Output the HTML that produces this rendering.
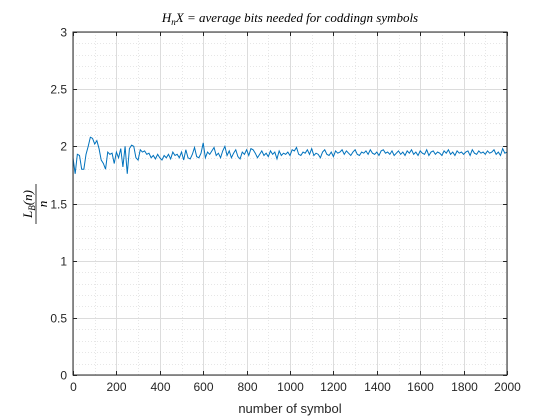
<!DOCTYPE html>
<html><head><meta charset="utf-8"><style>
body{margin:0;background:#fff;width:560px;height:420px;overflow:hidden}
svg{display:block}
</style></head><body>
<svg id="chart" width="560" height="420" xmlns="http://www.w3.org/2000/svg">
<rect width="560" height="420" fill="#fff"/>
<g id="grid"></g>
<g id="ticks"></g>
<path id="series" fill="none" stroke="#0072bd" stroke-width="1"/>
<rect x="73" y="32" width="434" height="343" fill="none" stroke="#262626" stroke-width="1"/>
<text x="290" y="22" text-anchor="middle" font-family="Liberation Serif, serif" font-style="italic" font-size="13" fill="#000">H<tspan font-size="9" dy="3">n</tspan><tspan dy="-3">X = average bits needed for coddingn symbols</tspan></text>
<text x="290" y="413" text-anchor="middle" font-family="Liberation Sans, sans-serif" font-size="13" fill="#262626">number of symbol</text>
<g transform="translate(36,204) rotate(-90)" font-family="Liberation Serif, serif" font-style="italic" font-size="13" fill="#000">
<text x="0" y="-4" text-anchor="middle">L<tspan font-size="9" dy="3">B</tspan><tspan dy="-3">(n)</tspan></text>
<line x1="-20" y1="0" x2="20" y2="0" stroke="#000" stroke-width="0.8"/>
<text x="0" y="11" text-anchor="middle">n</text>
</g>
</svg>
<script>
const yValues=[1.90,1.76,1.93,1.92,1.80,1.80,1.93,2.00,2.08,2.07,
2.02,2.05,1.98,1.88,1.85,1.80,1.95,1.93,1.94,1.85,
1.95,1.90,1.98,1.82,2.00,1.76,1.98,2.01,2.00,1.90,
1.88,1.97,1.95,1.96,1.93,1.94,1.90,1.92,1.89,1.93,
1.90,1.88,1.92,1.90,1.93,1.89,1.95,1.92,1.93,1.90,
1.95,1.88,1.97,1.90,1.89,1.93,1.99,1.91,1.90,1.94,
2.03,1.90,1.95,1.93,1.96,1.99,1.92,1.94,1.90,1.96,
2.00,1.92,1.96,1.90,1.94,1.97,1.91,1.89,1.95,1.93,
1.97,1.92,1.98,1.97,1.94,1.90,1.93,1.96,1.92,1.94,
1.91,1.96,1.93,1.95,1.89,1.96,1.92,1.94,1.93,1.95,
1.92,1.97,1.96,1.99,1.93,1.92,1.95,1.94,1.97,1.93,
1.98,1.92,1.94,1.93,1.90,1.95,1.97,1.93,1.92,1.95,
1.91,1.96,1.94,1.95,1.97,1.93,1.96,1.94,1.92,1.95,
1.97,1.93,1.92,1.95,1.94,1.96,1.93,1.97,1.94,1.93,
1.95,1.92,1.96,1.97,1.94,1.95,1.93,1.96,1.92,1.94,
1.96,1.93,1.95,1.92,1.96,1.94,1.97,1.93,1.95,1.92,
1.96,1.94,1.93,1.97,1.92,1.95,1.96,1.93,1.95,1.94,
1.92,1.96,1.94,1.97,1.93,1.95,1.92,1.96,1.94,1.95,
1.93,1.95,1.96,1.92,1.97,1.94,1.93,1.96,1.94,1.95,
1.93,1.96,1.94,1.95,1.97,1.93,1.95,1.92,1.98,1.94,1.95];
const xStep=10;
const xTicks=[0,200,400,600,800,1000,1200,1400,1600,1800,2000];
const yTicks=[0,0.5,1,1.5,2,2.5,3];
const yTickLabels=["0","0.5","1","1.5","2","2.5","3"];
const L=73,R=507,T=32,B=375,X0=0,X1=2000,Y0=0,Y1=3;
const sx=v=>L+(v-X0)/(X1-X0)*(R-L);
const sy=v=>B-(v-Y0)/(Y1-Y0)*(B-T);
const NS="http://www.w3.org/2000/svg";
const grid=document.getElementById('grid'),ticks=document.getElementById('ticks');
function ln(p,x1,y1,x2,y2,st,dash){const l=document.createElementNS(NS,'line');l.setAttribute('x1',x1);l.setAttribute('y1',y1);l.setAttribute('x2',x2);l.setAttribute('y2',y2);l.setAttribute('stroke',st);l.setAttribute('stroke-width',1);if(dash)l.setAttribute('stroke-dasharray',dash);p.appendChild(l);return l;}
for(let v=100;v<2000;v+=100){const x=Math.round(sx(v))+0.5;const g=ln(grid,x,T,x,B,'#e6e6e6','1,2');

}
for(let k=1;k<30;k++){const y=Math.round(sy(k/10))+0.5;const g=ln(grid,L,y,R,y,'#e6e6e6','1,2');

}
xTicks.forEach(v=>{const x=Math.round(sx(v))+0.5;const g=ln(grid,x,T,x,B,'#dcdcdc');


ln(ticks,x,B,x,B-4,'#262626');ln(ticks,x,T,x,T+4,'#262626');
const t=document.createElementNS(NS,'text');t.setAttribute('x',x);t.setAttribute('y',B+16);t.setAttribute('text-anchor','middle');t.setAttribute('font-family','Liberation Sans, sans-serif');t.setAttribute('font-size','12');t.setAttribute('fill','#262626');t.textContent=v;


ticks.appendChild(t);});
yTicks.forEach((v,i)=>{const y=Math.round(sy(v))+0.5;const g=ln(grid,L,y,R,y,'#dcdcdc');


ln(ticks,L,y,L+4,y,'#262626');ln(ticks,R,y,R-4,y,'#262626');
const t=document.createElementNS(NS,'text');t.setAttribute('x',L-6);t.setAttribute('y',y+4);t.setAttribute('text-anchor','end');t.setAttribute('font-family','Liberation Sans, sans-serif');t.setAttribute('font-size','12');t.setAttribute('fill','#262626');t.textContent=yTickLabels[i];


ticks.appendChild(t);});
document.getElementById('series').setAttribute('d',yValues.map((v,i)=>(i?'L':'M')+sx(i*xStep).toFixed(2)+','+sy(v).toFixed(2)).join(''));
</script>
</body></html>
